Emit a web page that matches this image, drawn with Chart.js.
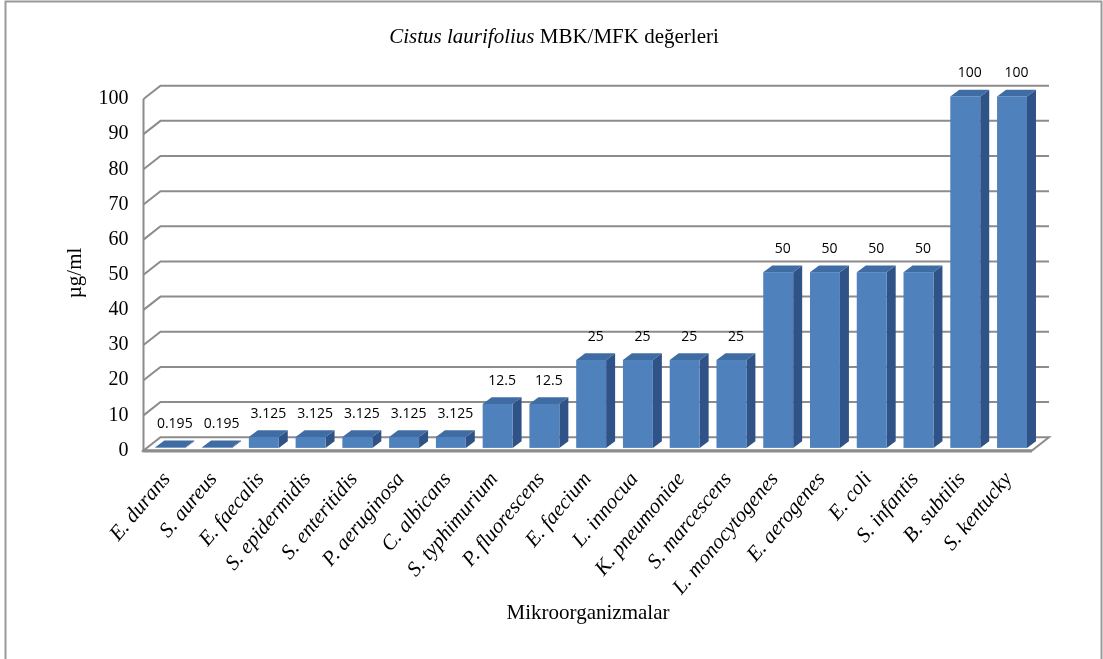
<!DOCTYPE html>
<html>
<head>
<meta charset="utf-8">
<title>Cistus laurifolius MBK/MFK değerleri</title>
<script src="https://cdn.jsdelivr.net/npm/chart.js@4.4.1/dist/chart.umd.min.js"></script>
<style>
  html, body { margin: 0; padding: 0; background: #ffffff; }
  #wrap { width: 1103px; height: 659px; position: relative; }
</style>
</head>
<body>
<div id="wrap"><canvas id="c" width="1103" height="659"></canvas></div>
<script>
// Microorganisms tested
const categories = [
  'E. durans', 'S. aureus', 'E. faecalis', 'S. epidermidis', 'S. enteritidis',
  'P. aeruginosa', 'C. albicans', 'S. typhimurium', 'P. fluorescens', 'E. faecium',
  'L. innocua', 'K. pneumoniae', 'S. marcescens', 'L. monocytogenes', 'E. aerogenes',
  'E. coli', 'S. infantis', 'B. subtilis', 'S. kentucky'
];
// MBK/MFK values in µg/ml
const mbkValues = [
  0.195, 0.195, 3.125, 3.125, 3.125,
  3.125, 3.125, 12.5, 12.5, 25,
  25, 25, 25, 50, 50,
  50, 50, 100, 100
];
// Value axis ticks
const yTickValues = [0, 10, 20, 30, 40, 50, 60, 70, 80, 90, 100];

const chartTitleItalic = 'Cistus laurifolius';
const chartTitleRest = ' MBK/MFK değerleri';
const xAxisTitle = 'Mikroorganizmalar';
const yAxisTitle = 'µg/ml';

// 3D look: back wall offset and bar depth (pixels)
const WALL_DX = 17, WALL_DY = -13.3;
const BAR_SHIFT_X = 3.4, BAR_SHIFT_Y = -2.6;
const BAR_DX = 9, BAR_DY = -6.7;

const FRONT = '#4F81BD', TOP = '#3F6CA3', SIDE = '#2F5386';
const GRID = '#8C8C8C';
const SERIF = '"Liberation Serif", "Times New Roman", serif';

const threeD = {
  id: 'threeD',
  beforeDatasetsDraw(chart) {
    const ctx = chart.ctx;
    const ys = chart.scales.y, area = chart.chartArea;
    const L = area.left, R = area.right;
    ctx.save();
    ctx.lineCap = 'butt';
    // floor (slab drawn as parallelogram)
    const y0 = ys.getPixelForValue(0);
    ctx.fillStyle = '#ffffff';
    ctx.strokeStyle = GRID;
    ctx.lineWidth = 2;
    ctx.beginPath();
    ctx.moveTo(L, y0);
    ctx.lineTo(R, y0);
    ctx.lineTo(R + WALL_DX, y0 + WALL_DY);
    ctx.lineTo(L + WALL_DX, y0 + WALL_DY);
    ctx.closePath();
    ctx.fill();
    ctx.stroke();
    ctx.lineWidth = 3;
    ctx.beginPath();
    ctx.moveTo(L - 1, y0 + 0.5);
    ctx.lineTo(R, y0 + 0.5);
    ctx.stroke();
    // back wall gridlines and side wall diagonals
    ctx.lineWidth = 2;
    yTickValues.forEach(v => {
      if (v === 0) return;
      const y = ys.getPixelForValue(v);
      ctx.beginPath();
      ctx.moveTo(L, y);
      ctx.lineTo(L + WALL_DX, y + WALL_DY);
      ctx.lineTo(R + WALL_DX, y + WALL_DY);
      ctx.stroke();
    });
    // value axis line
    ctx.beginPath();
    ctx.moveTo(L, ys.getPixelForValue(100));
    ctx.lineTo(L, y0 + 1);
    ctx.stroke();
    ctx.restore();
  },
  afterDatasetsDraw(chart) {
    const ctx = chart.ctx;
    const meta = chart.getDatasetMeta(0);
    ctx.save();
    meta.data.forEach((bar, i) => {
      const p = bar.getProps(['x', 'y', 'base', 'width'], true);
      const x1 = p.x - p.width / 2 + BAR_SHIFT_X;
      const x2 = p.x + p.width / 2 + BAR_SHIFT_X;
      const yt = p.y + BAR_SHIFT_Y;
      const yb = p.base + BAR_SHIFT_Y;
      // side face
      ctx.fillStyle = SIDE;
      ctx.beginPath();
      ctx.moveTo(x2, yt);
      ctx.lineTo(x2 + BAR_DX, yt + BAR_DY);
      ctx.lineTo(x2 + BAR_DX, yb + BAR_DY);
      ctx.lineTo(x2, yb);
      ctx.closePath();
      ctx.fill();
      // top face
      ctx.fillStyle = TOP;
      ctx.beginPath();
      ctx.moveTo(x1, yt);
      ctx.lineTo(x1 + BAR_DX, yt + BAR_DY);
      ctx.lineTo(x2 + BAR_DX, yt + BAR_DY);
      ctx.lineTo(x2, yt);
      ctx.closePath();
      ctx.fill();
      // front face
      ctx.fillStyle = FRONT;
      ctx.fillRect(x1, yt, x2 - x1, yb - yt);
      // value label
      ctx.fillStyle = '#000000';
      ctx.font = '14px "Open Sans", "Liberation Sans", sans-serif';
      ctx.textAlign = 'center';
      ctx.textBaseline = 'middle';
      ctx.fillText(String(mbkValues[i]), p.x + BAR_SHIFT_X + BAR_DX / 2, yt - 23);
    });
    ctx.restore();
  },
  afterDraw(chart) {
    const ctx = chart.ctx;
    ctx.save();
    // outer frame
    ctx.strokeStyle = '#9A9A9A';
    ctx.lineWidth = 2;
    ctx.strokeRect(5.5, 1.5, 1096, 700);
    // chart title, species name in italics
    ctx.fillStyle = '#000000';
    ctx.textBaseline = 'middle';
    const fItal = 'italic 21px ' + SERIF;
    const fReg = '21px ' + SERIF;
    ctx.font = fItal;
    const w1 = ctx.measureText(chartTitleItalic).width;
    ctx.font = fReg;
    const w2 = ctx.measureText(chartTitleRest).width;
    let tx = 554 - (w1 + w2) / 2;
    ctx.textAlign = 'left';
    ctx.font = fItal;
    ctx.fillText(chartTitleItalic, tx, 37);
    ctx.font = fReg;
    ctx.fillText(chartTitleRest, tx + w1, 37);
    // axis titles
    ctx.textAlign = 'center';
    ctx.font = '21px ' + SERIF;
    ctx.fillText(xAxisTitle, 588, 613);
    ctx.save();
    ctx.translate(75, 273);
    ctx.rotate(-Math.PI / 2);
    ctx.font = '21px ' + SERIF;
    ctx.fillText(yAxisTitle, 0, 0);
    ctx.restore();
    ctx.restore();
  }
};

new Chart(document.getElementById('c'), {
  type: 'bar',
  data: {
    labels: categories,
    datasets: [{
      data: mbkValues,
      backgroundColor: 'rgba(0,0,0,0)',
      borderWidth: 0,
      barPercentage: 0.64,
      categoryPercentage: 1.0
    }]
  },
  options: {
    responsive: false,
    animation: false,
    devicePixelRatio: 1,
    layout: { padding: { top: 99, right: 71, left: 0, bottom: 0 } },
    plugins: {
      legend: { display: false },
      title: { display: false },
      tooltip: { enabled: false }
    },
    scales: {
      y: {
        min: 0,
        max: 100,
        afterFit(s) { s.width = 143.5; },
        afterBuildTicks(s) { s.ticks = yTickValues.map(v => ({ value: v })); },
        grid: { display: false, drawTicks: false },
        border: { display: false },
        ticks: {
          padding: 15,
          color: '#000000',
          font: { family: SERIF, size: 20 }
        }
      },
      x: {
        afterFit(s) { s.height = 208.5; },
        grid: { display: false, drawTicks: false },
        border: { display: false },
        ticks: {
          autoSkip: false,
          minRotation: 50,
          maxRotation: 50,
          padding: 17,
          color: '#000000',
          font: { family: SERIF, size: 21, style: 'italic' }
        }
      }
    }
  },
  plugins: [threeD]
});
</script>
</body>
</html>
